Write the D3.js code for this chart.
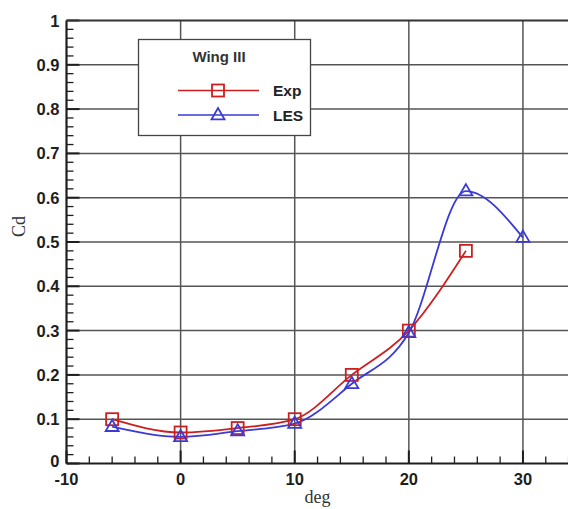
<!DOCTYPE html>
<html>
<head>
<meta charset="utf-8">
<script src="https://cdn.jsdelivr.net/npm/d3@7"></script>
<style>
  html, body { margin: 0; padding: 0; background: #fff; }
  svg { display: block; }
</style>
</head>
<body>
<svg id="chart" width="568" height="509"></svg>
<script>
// Drag coefficient vs angle of attack, Wing III
const expDeg = [-6, 0, 5, 10, 15, 20, 25];
const expCd  = [0.10, 0.07, 0.08, 0.10, 0.20, 0.30, 0.48];
const lesDeg = [-6, 0, 5, 10, 15, 20, 25, 30];
const lesCd  = [0.083, 0.06, 0.073, 0.09, 0.18, 0.295, 0.615, 0.51];
const xTicks = [-10, 0, 10, 20, 30];
const yTicks = [0, 0.1, 0.2, 0.3, 0.4, 0.5, 0.6, 0.7, 0.8, 0.9, 1];
const legendTitle = "Wing III";
const seriesNames = ["Exp", "LES"];

const W = 568, H = 509;
const svg = d3.select("#chart");
const plotL = 66.5, plotT = 20.5, plotB = 463.5, plotR = 580;

const x = d3.scaleLinear().domain([-10, 35]).range([plotL, plotR]);
const y = d3.scaleLinear().domain([0, 1]).range([plotB, plotT]);

const red = "#cc1f1f", blue = "#3a3ad6";
const ink = "#1e1e1e";

// grid lines at major ticks
const grid = svg.append("g");
grid.selectAll("line.v").data(xTicks.filter(d => d > -10)).join("line")
  .attr("x1", d => x(d)).attr("x2", d => x(d))
  .attr("y1", plotT).attr("y2", plotB)
  .attr("stroke", "#555").attr("stroke-width", 1.5);
grid.selectAll("line.h").data(yTicks.filter(d => d > 0 && d < 1)).join("line")
  .attr("x1", plotL).attr("x2", W)
  .attr("y1", d => y(d)).attr("y2", d => y(d))
  .attr("stroke", "#555").attr("stroke-width", 1.5);

// inward ticks: majors and minors
const yMinor = d3.range(0, 1.0001, 0.02);
const xMinor = d3.range(-10, 35.001, 2);
const isMajorY = d => Math.abs(Math.round(d * 10) - d * 10) < 1e-6;
const ticks = svg.append("g").attr("stroke", ink);
ticks.selectAll("line.ym").data(yMinor).join("line")
  .attr("x1", plotL).attr("y1", d => y(d)).attr("y2", d => y(d))
  .attr("x2", d => plotL + (isMajorY(d) ? 13 : 7))
  .attr("stroke-width", d => (isMajorY(d) ? 2 : 1.3));
ticks.selectAll("line.xm").data(xMinor).join("line")
  .attr("x1", d => x(d)).attr("x2", d => x(d)).attr("y1", plotB)
  .attr("y2", d => plotB - (d % 10 === 0 ? 13 : 7))
  .attr("stroke-width", d => (d % 10 === 0 ? 2 : 1.3));

// frame
svg.append("line").attr("x1", plotL).attr("x2", plotL).attr("y1", plotT).attr("y2", plotB)
  .attr("stroke", ink).attr("stroke-width", 2.2);
svg.append("line").attr("x1", plotL).attr("x2", W).attr("y1", plotB).attr("y2", plotB)
  .attr("stroke", ink).attr("stroke-width", 2.2);
svg.append("line").attr("x1", plotL).attr("x2", W).attr("y1", plotT).attr("y2", plotT)
  .attr("stroke", "#333").attr("stroke-width", 2);

// tick labels
const tickFont = "Liberation Sans, Arial, sans-serif";
svg.append("g").selectAll("text").data(yTicks).join("text")
  .attr("x", plotL - 7).attr("y", d => y(d) + (d === 0 ? 3 : 6))
  .attr("text-anchor", "end")
  .attr("font-family", tickFont).attr("font-weight", "bold").attr("font-size", 16.5)
  .attr("fill", ink)
  .text(d => d3.format("~g")(d));
svg.append("g").selectAll("text").data(xTicks).join("text")
  .attr("x", d => x(d)).attr("y", plotB + 21)
  .attr("text-anchor", "middle")
  .attr("font-family", tickFont).attr("font-weight", "bold").attr("font-size", 16.5)
  .attr("fill", ink)
  .text(d => d);

// axis titles
svg.append("text").attr("x", x(12)).attr("y", 503)
  .attr("text-anchor", "middle")
  .attr("font-family", "Liberation Serif, Times New Roman, serif").attr("font-size", 18)
  .attr("fill", "#333").text("deg");
svg.append("text").attr("transform", `translate(25, ${y(0.535)}) rotate(-90)`)
  .attr("text-anchor", "middle")
  .attr("font-family", "Liberation Serif, Times New Roman, serif").attr("font-size", 18)
  .attr("fill", "#333").text("Cd");

// series
const lineGen = d3.line().x(d => x(d[0])).y(d => y(d[1])).curve(d3.curveMonotoneX);
const expPts = expDeg.map((d, i) => [d, expCd[i]]);
const lesPts = lesDeg.map((d, i) => [d, lesCd[i]]);

svg.append("path").attr("d", lineGen(expPts))
  .attr("fill", "none").attr("stroke", red).attr("stroke-width", 1.8);
svg.append("path").attr("d", lineGen(lesPts))
  .attr("fill", "none").attr("stroke", blue).attr("stroke-width", 1.8);

const sq = 12;
function square(g, cx, cy) {
  g.append("rect").attr("x", cx - sq / 2).attr("y", cy - sq / 2)
    .attr("width", sq).attr("height", sq)
    .attr("fill", "none").attr("stroke", red).attr("stroke-width", 1.8);
}
function tri(g, cx, cy) {
  const s = 13;
  const h = s * 0.866;
  g.append("path")
    .attr("d", `M${cx},${cy - h * 0.62} L${cx + s / 2},${cy + h * 0.38} L${cx - s / 2},${cy + h * 0.38} Z`)
    .attr("fill", "none").attr("stroke", blue).attr("stroke-width", 1.8);
}
const markers = svg.append("g");
expPts.forEach(p => square(markers, x(p[0]), y(p[1])));
lesPts.forEach(p => tri(markers, x(p[0]), y(p[1])));

// legend
const lg = svg.append("g");
lg.append("rect").attr("x", 138.5).attr("y", 39.5).attr("width", 172).attr("height", 96)
  .attr("fill", "#fff").attr("stroke", "#444").attr("stroke-width", 1.3);
lg.append("text").attr("x", 219).attr("y", 62).attr("text-anchor", "middle")
  .attr("font-family", tickFont).attr("font-weight", "bold").attr("font-size", 15)
  .attr("fill", "#333").text(legendTitle);
const rows = [{ name: seriesNames[0], color: red, y: 90.5, m: square },
              { name: seriesNames[1], color: blue, y: 115, m: tri }];
rows.forEach(r => {
  lg.append("line").attr("x1", 178).attr("x2", 259).attr("y1", r.y).attr("y2", r.y)
    .attr("stroke", r.color).attr("stroke-width", 1.6);
  r.m(lg, 218, r.y);
  lg.append("text").attr("x", 273).attr("y", r.y + 5.5)
    .attr("font-family", tickFont).attr("font-weight", "bold").attr("font-size", 15.5)
    .attr("fill", "#222").text(r.name);
});
</script>
</body>
</html>
